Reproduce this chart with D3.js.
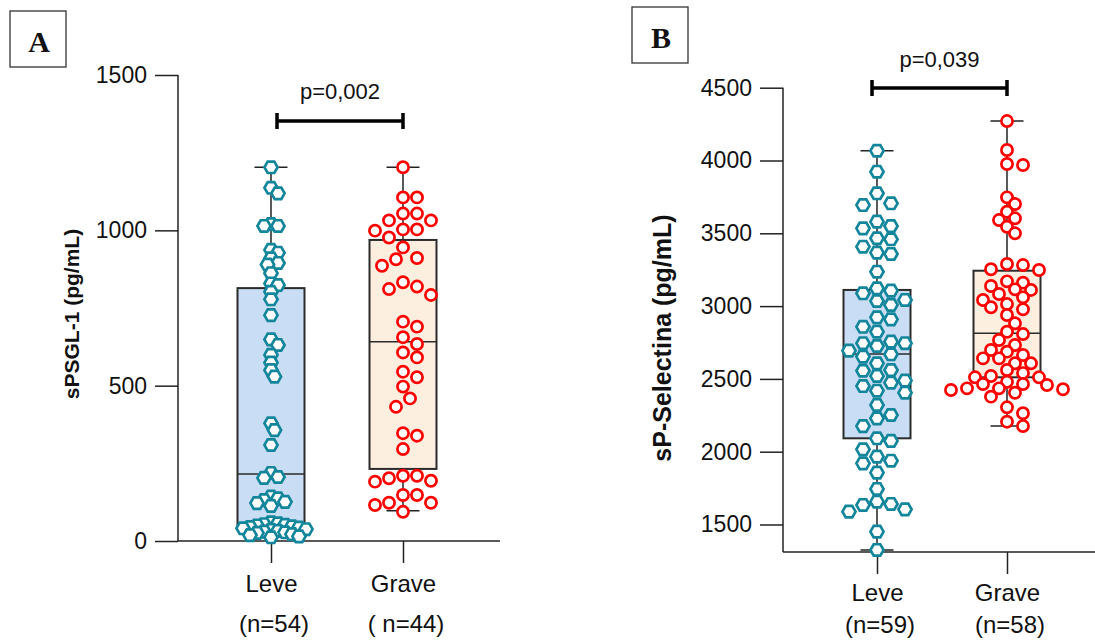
<!DOCTYPE html>
<head>
  <meta charset="utf-8">
  <script src="https://d3js.org/d3.v7.min.js"></script>
  <style>
    body { margin: 0; background: #fff; }
    text { font-family: Arial, "Liberation Sans", sans-serif; fill: #111; }
  </style>
</head>

<body>
  <script>
    var categories = ["Leve", "Grave"];
    var nLabelsA = ["(n=54)", "( n=44)"];
    var nLabelsB = ["(n=59)", "(n=58)"];
    var ticksA = [0, 500, 1000, 1500];
    var ticksB = [1500, 2000, 2500, 3000, 3500, 4000, 4500];

    // sPSGL-1 (pg/mL)
    var leveA = [1203, 1137, 1119, 1020, 1014, 1014, 937, 928, 910, 895, 890, 862,
      829, 824, 802, 778, 727, 649, 631, 599, 574, 550, 529, 379, 357, 309,
      219, 206, 203, 143, 137, 132, 126, 122, 113,
      60, 57, 54, 52, 50, 47, 45, 43, 41, 38, 36, 33, 30, 28, 26, 22, 19, 15, 12];
    var graveA = [1203, 1106, 1106, 1054, 1054, 1032, 1032, 1003, 1003, 999, 977, 945,
      911, 907, 886, 833, 819, 811, 792, 706, 690, 656, 634, 607, 591, 545, 527,
      497, 459, 432, 347, 339, 296, 210, 210, 202, 194, 191, 148, 148, 123, 123, 116, 94];
    // min, q1, median, q3, max
    var boxLeveA = [13, 51, 216, 814, 1203];
    var boxGraveA = [97, 232, 641, 969, 1203];

    // sP-Selectina (pg/mL)
    var leveB = [4067, 3923, 3775, 3706, 3694, 3580, 3550, 3534, 3466, 3459, 3408, 3367,
      3358, 3236, 3122, 3106, 3088, 3042, 3035, 3008, 2923, 2909, 2858, 2824, 2756,
      2745, 2745, 2726, 2694, 2669, 2653, 2607, 2561, 2556, 2520, 2488, 2474, 2451,
      2419, 2405, 2321, 2252, 2229, 2176, 2092, 2074, 2016, 1966, 1938, 1920, 1856,
      1744, 1657, 1641, 1634, 1604, 1588, 1451, 1325];
    var graveB = [4271, 4072, 3976, 3969, 3747, 3701, 3648, 3603, 3591, 3545, 3500, 3289,
      3282, 3253, 3248, 3170, 3161, 3138, 3115, 3111, 3083, 3060, 3042, 3014, 2992,
      2978, 2939, 2882, 2824, 2808, 2767, 2733, 2699, 2687, 2664, 2641, 2641, 2607,
      2607, 2561, 2540, 2520, 2511, 2511, 2480, 2465, 2465, 2458, 2435, 2435, 2429,
      2424, 2405, 2378, 2305, 2264, 2206, 2176];
    var boxLeveB = [1325, 2092, 2671, 3111, 4067];
    var boxGraveB = [2176, 2511, 2813, 3243, 4271];

    var pA = "p=0,002", pB = "p=0,039";

    var ptColor = ["#13869b", "#ff0000"];
    var boxFill = ["#c9ddf5", "#fdefe0"];

    var svg = d3.select("body").append("svg")
      .attr("width", 1095)
      .attr("height", 640);

    var hex = "M" + d3.range(6).map(function (i) {
      var a = i * Math.PI / 3;
      return [6.6 * Math.cos(a), 6.6 * Math.sin(a)];
    }).join("L") + "Z";

    // simple column beeswarm in pixel space
    function swarm(vals, y, step, minDist) {
      var placed = [];
      vals.slice().sort(d3.descending).forEach(function (v) {
        var py = y(v);
        for (var k = 0; k < 60; k++) {
          var dx = (k % 2 ? 1 : -1) * Math.ceil(k / 2) * step;
          var ok = placed.every(function (p) {
            return Math.hypot(p.dx - dx, p.y - py) >= minDist;
          });
          if (ok) { placed.push({ v: v, dx: dx, y: py }); break; }
        }
      });
      return placed;
    }

    function panel(o) {
      var g = svg.append("g");
      var y = d3.scaleLinear().domain(o.domain).range(o.yRange);
      var x = d3.scalePoint().domain(categories).range(o.xRange);

      // axes lines
      g.append("line").attr("x1", o.x0).attr("x2", o.x0)
        .attr("y1", o.yTop).attr("y2", o.yBase)
        .attr("stroke", "#222").attr("stroke-width", 1.5);
      g.append("line").attr("x1", o.x0).attr("x2", o.xEnd)
        .attr("y1", o.yBase).attr("y2", o.yBase)
        .attr("stroke", "#222").attr("stroke-width", 1.5);

      var ya = g.append("g").attr("transform", "translate(" + o.x0 + ",0)")
        .call(d3.axisLeft(y).tickValues(o.ticks).tickFormat(d3.format("d"))
          .tickSize(o.tick).tickPadding(8).tickSizeOuter(0));
      ya.select(".domain").remove();
      ya.selectAll("line").attr("stroke", "#222").attr("stroke-width", 1.5);
      ya.selectAll("text").style("font-size", "23px").attr("font-family", null);

      var xa = g.append("g").attr("transform", "translate(0," + o.yBase + ")")
        .call(d3.axisBottom(x).tickSize(22).tickPadding(o.labPad).tickSizeOuter(0));
      xa.select(".domain").remove();
      xa.selectAll("line").attr("stroke", "#222").attr("stroke-width", 1.5);
      xa.selectAll("text").style("font-size", "24px").attr("font-family", null);

      g.selectAll(".nlab").data(o.nLabels).enter().append("text")
        .attr("x", function (d, i) { return x(categories[i]) + 3; })
        .attr("y", o.nY)
        .attr("text-anchor", "middle")
        .style("font-size", "24px")
        .text(function (d) { return d; });

      // axis title
      g.append("text")
        .attr("transform", "translate(" + o.titleX + "," + o.titleY + ") rotate(-90)")
        .attr("text-anchor", "middle")
        .attr("dy", "0.35em")
        .style("font-size", o.titleSize + "px")
        .style("font-weight", "bold")
        .text(o.title);

      // boxes
      o.boxes.forEach(function (b, i) {
        var cx = x(categories[i]);
        var bg = g.append("g");
        bg.append("line").attr("x1", cx).attr("x2", cx)
          .attr("y1", y(b[0])).attr("y2", y(b[4]))
          .attr("stroke", "#222").attr("stroke-width", 1.5);
        bg.append("rect")
          .attr("x", cx - 33.5).attr("width", 67)
          .attr("y", y(b[3])).attr("height", y(b[1]) - y(b[3]))
          .attr("fill", boxFill[i]).attr("stroke", "#2b2b2b").attr("stroke-width", 2);
        bg.append("line").attr("x1", cx - 33.5).attr("x2", cx + 33.5)
          .attr("y1", y(b[2])).attr("y2", y(b[2]))
          .attr("stroke", "#2b2b2b").attr("stroke-width", 1.5);
        [b[0], b[4]].forEach(function (v) {
          bg.append("line").attr("x1", cx - 16.5).attr("x2", cx + 16.5)
            .attr("y1", y(v)).attr("y2", y(v))
            .attr("stroke", "#222").attr("stroke-width", 1.5);
        });
      });

      // points
      o.series.forEach(function (vals, i) {
        var cx = x(categories[i]);
        var pts = swarm(vals, y, o.step[i], o.minDist[i]);
        var sel = g.append("g").selectAll("path").data(pts).enter();
        if (i === 0) {
          sel.append("path").attr("d", hex)
            .attr("transform", function (d) { return "translate(" + (cx + d.dx) + "," + d.y + ")"; })
            .attr("fill", "#fff").attr("stroke", ptColor[0]).attr("stroke-width", 2.7);
        } else {
          sel.append("circle")
            .attr("cx", function (d) { return cx + d.dx; })
            .attr("cy", function (d) { return d.y; })
            .attr("r", 5.6)
            .attr("fill", "#fff").attr("stroke", ptColor[1]).attr("stroke-width", 2.7);
        }
      });

      // significance bracket
      var x1 = x(categories[0]) + o.brOff, x2 = x(categories[1]);
      g.append("path")
        .attr("d", "M" + x1 + "," + (o.brY - 8) + "V" + (o.brY + 8) +
          "M" + x1 + "," + o.brY + "H" + x2 +
          "M" + x2 + "," + (o.brY - 8) + "V" + (o.brY + 8))
        .attr("fill", "none").attr("stroke", "#000").attr("stroke-width", 3.5);
      g.append("text")
        .attr("x", (x1 + x2) / 2).attr("y", o.pY)
        .attr("text-anchor", "middle")
        .style("font-size", "22px")
        .text(o.p);

      // panel letter
      g.append("rect").attr("x", o.letterX).attr("y", o.letterY)
        .attr("width", 56).attr("height", 56)
        .attr("fill", "none").attr("stroke", "#333").attr("stroke-width", 1.3);
      g.append("text")
        .attr("x", o.letterX + 29).attr("y", o.letterY + 41)
        .attr("text-anchor", "middle")
        .style("font-family", "'Liberation Serif', 'Times New Roman', serif")
        .style("font-size", "30px").style("font-weight", "bold")
        .text(o.letter);
    }

    panel({
      domain: [0, 1500], yRange: [541, 75], xRange: [271, 403],
      x0: 178, xEnd: 500, yTop: 75, yBase: 541, tick: 23, labPad: 12, nY: 632,
      ticks: ticksA, nLabels: nLabelsA,
      title: "sPSGL-1 (pg/mL)", titleX: 72, titleY: 314, titleSize: 21,
      boxes: [boxLeveA, boxGraveA], series: [leveA, graveA],
      step: [3.5, 7], minDist: [7, 13],
      brY: 121, brOff: 6, pY: 99, p: pA,
      letter: "A", letterX: 10, letterY: 11
    });

    panel({
      domain: [1500, 4500], yRange: [524.5, 87.7], xRange: [877, 1007],
      x0: 783, xEnd: 1095, yTop: 87.7, yBase: 552, tick: 23, labPad: 10, nY: 633,
      ticks: ticksB, nLabels: nLabelsB,
      title: "sP-Selectina (pg/mL)", titleX: 662, titleY: 338, titleSize: 25,
      boxes: [boxLeveB, boxGraveB], series: [leveB, graveB],
      step: [14, 8], minDist: [12, 10],
      brY: 88, brOff: -5, pY: 67, p: pB,
      letter: "B", letterX: 632, letterY: 7
    });
  </script>
</body>
